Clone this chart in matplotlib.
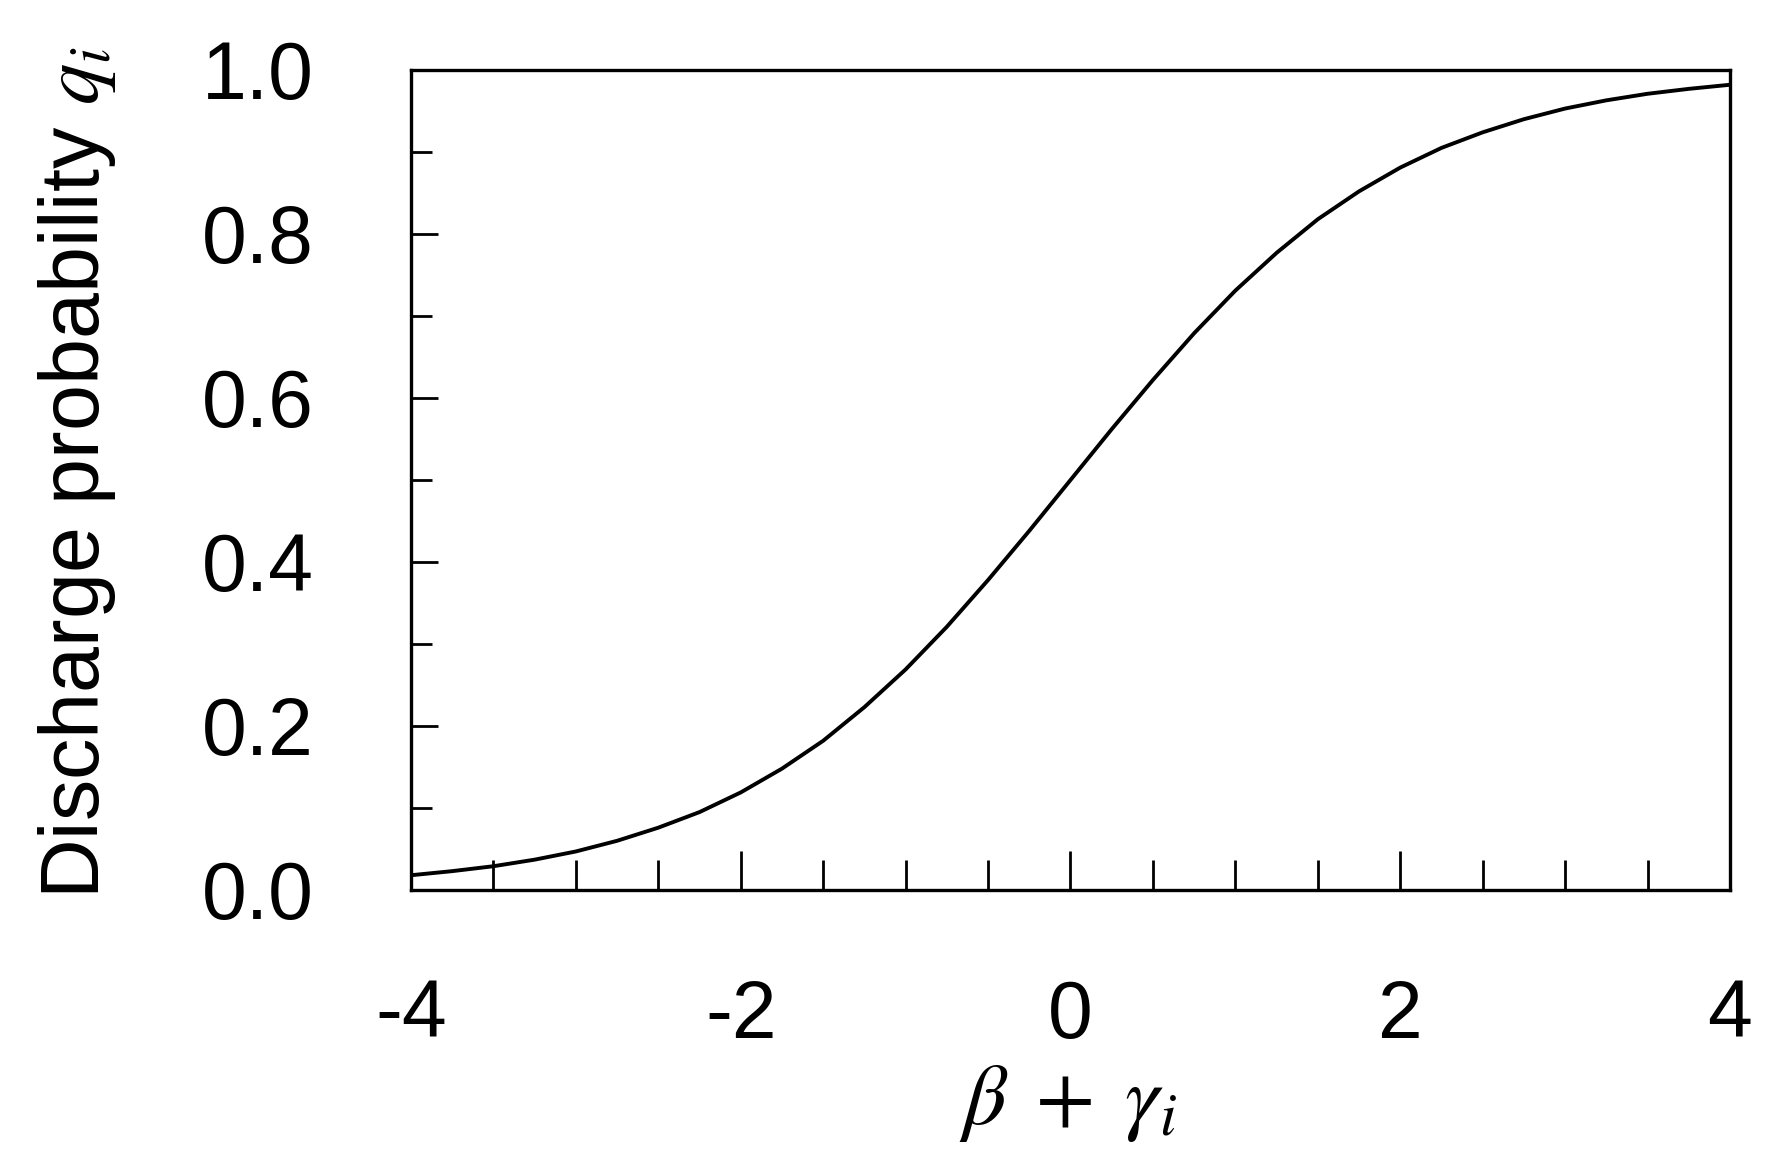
import numpy as np
import matplotlib.pyplot as plt
from matplotlib.ticker import MultipleLocator

plt.rcParams['font.family'] = ['Liberation Sans', 'DejaVu Sans']
plt.rcParams['mathtext.fontset'] = 'stix'
plt.rcParams['axes.unicode_minus'] = False

# Curve, every 0.25 along x
x_vals = [-4.0, -3.75, -3.5, -3.25, -3.0, -2.75, -2.5, -2.25, -2.0,
          -1.75, -1.5, -1.25, -1.0, -0.75, -0.5, -0.25, 0.0,
          0.25, 0.5, 0.75, 1.0, 1.25, 1.5, 1.75, 2.0,
          2.25, 2.5, 2.75, 3.0, 3.25, 3.5, 3.75, 4.0]
q_vals = [0.018, 0.023, 0.029, 0.037, 0.047, 0.060, 0.076, 0.095, 0.119,
          0.148, 0.182, 0.223, 0.269, 0.321, 0.378, 0.438, 0.500,
          0.562, 0.622, 0.679, 0.731, 0.777, 0.818, 0.852, 0.881,
          0.905, 0.924, 0.940, 0.953, 0.963, 0.971, 0.977, 0.982]

x_ticks = [-4, -2, 0, 2, 4]
y_ticks = [0.0, 0.2, 0.4, 0.6, 0.8, 1.0]

fig = plt.figure(figsize=(17.81, 11.61), dpi=100)
ax = fig.add_axes([411/1781, 271/1161, 1319/1781, 820/1161])

ax.plot(x_vals, q_vals, color='black', lw=2.8, solid_joinstyle='round')

ax.set_xlim(-4, 4)
ax.set_ylim(0, 1)
ax.set_xticks(x_ticks)
ax.set_xticklabels([str(t) for t in x_ticks])
ax.set_yticks(y_ticks)
ax.set_yticklabels(['%.1f' % t for t in y_ticks])
ax.xaxis.set_minor_locator(MultipleLocator(0.5))
ax.yaxis.set_minor_locator(MultipleLocator(0.1))

for s in ax.spines.values():
    s.set_linewidth(2.4)

ax.tick_params(axis='x', which='major', direction='in', length=28, width=2,
               labelsize=58, pad=64)
ax.tick_params(axis='x', which='minor', direction='in', length=21.5, width=2)
ax.tick_params(axis='y', which='major', direction='in', length=19.5, width=2,
               labelsize=58, pad=70)
ax.tick_params(axis='y', which='minor', direction='in', length=15, width=2)

fig.text(77/1781, 1 - 472/1161, 'Discharge probability $q_i$', rotation=90,
         ha='center', va='center', fontsize=59.5)
fig.text(1068/1781, 1 - 1103/1161, r'$\beta\;+\;\gamma_i$',
         ha='center', va='center', fontsize=62)

fig.savefig('out.png', dpi=100)
